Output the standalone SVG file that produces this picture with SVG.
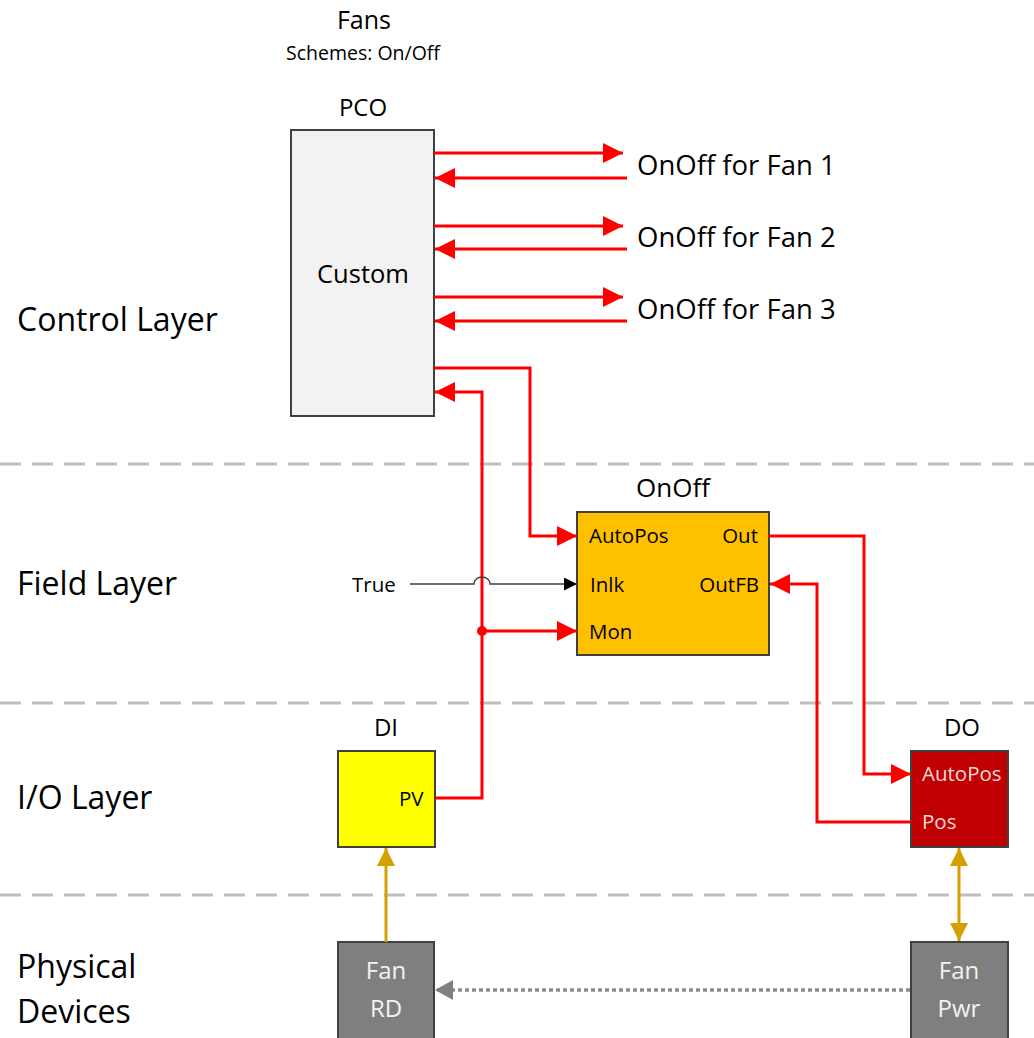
<svg xmlns="http://www.w3.org/2000/svg" width="1034" height="1038" viewBox="0 0 1034 1038">
<style>
text{font-family:"Open Sans","Noto Sans","Liberation Sans",sans-serif;fill:#000}
.layer{font-size:32px}
.sep{stroke:#BFBFBF;stroke-width:3;stroke-dasharray:21 11;fill:none}
.box{stroke:#404040;stroke-width:2}
.red{stroke:#FF0000;stroke-width:3;fill:none}
.gold{stroke:#D4A000;stroke-width:3;fill:none}
.port{font-size:20.5px}
.lbl{font-size:24px;text-anchor:middle}
.wt{fill:#F2F2F2;font-size:24px;text-anchor:middle}
</style>
<defs>
<marker id="ar" markerUnits="userSpaceOnUse" markerWidth="20" markerHeight="20" refX="20" refY="10" orient="auto"><path d="M0,0 L20,10 L0,20 z" fill="#FF0000"/></marker>
<marker id="ab" markerUnits="userSpaceOnUse" markerWidth="13" markerHeight="13" refX="13" refY="6.5" orient="auto"><path d="M0,0 L13,6.5 L0,13 z" fill="#000"/></marker>
<marker id="ag" markerUnits="userSpaceOnUse" markerWidth="18" markerHeight="18" refX="18" refY="9" orient="auto"><path d="M0,0 L18,9 L0,18 z" fill="#D4A000"/></marker>
<marker id="ag2" markerUnits="userSpaceOnUse" markerWidth="18" markerHeight="18" refX="0" refY="9" orient="auto"><path d="M18,0 L0,9 L18,18 z" fill="#D4A000"/></marker>
<marker id="agr" markerUnits="userSpaceOnUse" markerWidth="18" markerHeight="20" refX="18" refY="10" orient="auto"><path d="M0,0 L18,10 L0,20 z" fill="#808080"/></marker>
</defs>
<g id="separators">
<line class="sep" x1="0" y1="464" x2="1034" y2="464"/>
<line class="sep" x1="0" y1="703" x2="1034" y2="703"/>
<line class="sep" x1="0" y1="895" x2="1034" y2="895"/>
</g>
<g id="layer-labels">
<text class="layer" x="17" y="331">Control Layer</text>
<text class="layer" x="17" y="595">Field Layer</text>
<text class="layer" x="17" y="809">I/O Layer</text>
<text class="layer" x="17" y="978">Physical</text>
<text class="layer" x="17" y="1023">Devices</text>
</g>
<g id="title">
<text x="364" y="29" style="font-size:25px;text-anchor:middle">Fans</text>
<text x="363" y="60" style="font-size:19.5px;text-anchor:middle">Schemes: On/Off</text>
</g>
<g id="pco">
<text class="lbl" x="363" y="116">PCO</text>
<rect class="box" x="291" y="130" width="143" height="286" fill="#F2F2F2"/>
<text x="363" y="283" style="font-size:25.5px;text-anchor:middle">Custom</text>
</g>
<g id="fan-labels" style="font-size:27.5px">
<text x="637" y="175">OnOff for Fan 1</text>
<text x="637" y="247">OnOff for Fan 2</text>
<text x="637" y="319">OnOff for Fan 3</text>
</g>
<g id="onoff">
<text class="lbl" x="673" y="497" style="font-size:26px">OnOff</text>
<rect class="box" x="577" y="512" width="192" height="143" fill="#FFC000"/>
<text class="port" x="589" y="543">AutoPos</text>
<text class="port" x="590" y="592">Inlk</text>
<text class="port" x="589" y="639">Mon</text>
<text class="port" x="758" y="543" text-anchor="end">Out</text>
<text class="port" x="759" y="592" text-anchor="end">OutFB</text>
</g>
<g id="true-const">
<text class="port" x="352" y="592">True</text>
</g>
<g id="di">
<text class="lbl" x="386" y="736">DI</text>
<rect class="box" x="338" y="751" width="97" height="96" fill="#FFFF00"/>
<text class="port" x="399" y="806">PV</text>
</g>
<g id="do">
<text class="lbl" x="962" y="736">DO</text>
<rect class="box" x="911" y="751" width="97" height="96" fill="#C00000"/>
<text class="port" x="922" y="781" style="fill:#F4D9D9">AutoPos</text>
<text class="port" x="922" y="829" style="fill:#F4D9D9">Pos</text>
</g>
<g id="fan-rd">
<rect class="box" x="338" y="942" width="96" height="100" fill="#7F7F7F"/>
<text class="wt" x="386" y="979">Fan</text>
<text class="wt" x="386" y="1017">RD</text>
</g>
<g id="fan-pwr">
<rect class="box" x="911" y="942" width="97" height="100" fill="#7F7F7F"/>
<text class="wt" x="959" y="979">Fan</text>
<text class="wt" x="959" y="1017">Pwr</text>
</g>
<g id="connectors">
<path class="red" d="M434,153 H623" marker-end="url(#ar)"/>
<path class="red" d="M627,178 H435" marker-end="url(#ar)"/>
<path class="red" d="M434,226 H623" marker-end="url(#ar)"/>
<path class="red" d="M627,249 H435" marker-end="url(#ar)"/>
<path class="red" d="M434,297 H623" marker-end="url(#ar)"/>
<path class="red" d="M627,321 H435" marker-end="url(#ar)"/>
<path class="red" d="M434,368 H530 V536 H577" marker-end="url(#ar)"/>
<path class="red" d="M435,798 H482 V392 H435" marker-end="url(#ar)"/>
<path class="red" d="M482,631 H577" marker-end="url(#ar)"/>
<circle cx="482" cy="631" r="5" fill="#FF0000"/>
<path class="red" d="M769,536 H864 V774 H911" marker-end="url(#ar)"/>
<path class="red" d="M911,822 H817 V584 H770" marker-end="url(#ar)"/>
<path d="M410,584 H474 A8,7 0 0 1 490,584 H577" fill="none" stroke="#404040" stroke-width="1.5" marker-end="url(#ab)"/>
<path class="gold" d="M386,942 V848" marker-end="url(#ag)"/>
<path class="gold" d="M959,848 V941" marker-start="url(#ag2)" marker-end="url(#ag)"/>
<path d="M910,990 H435" fill="none" stroke="#8C8C8C" stroke-width="3.5" stroke-dasharray="4 3" marker-end="url(#agr)"/>
</g>
</svg>
